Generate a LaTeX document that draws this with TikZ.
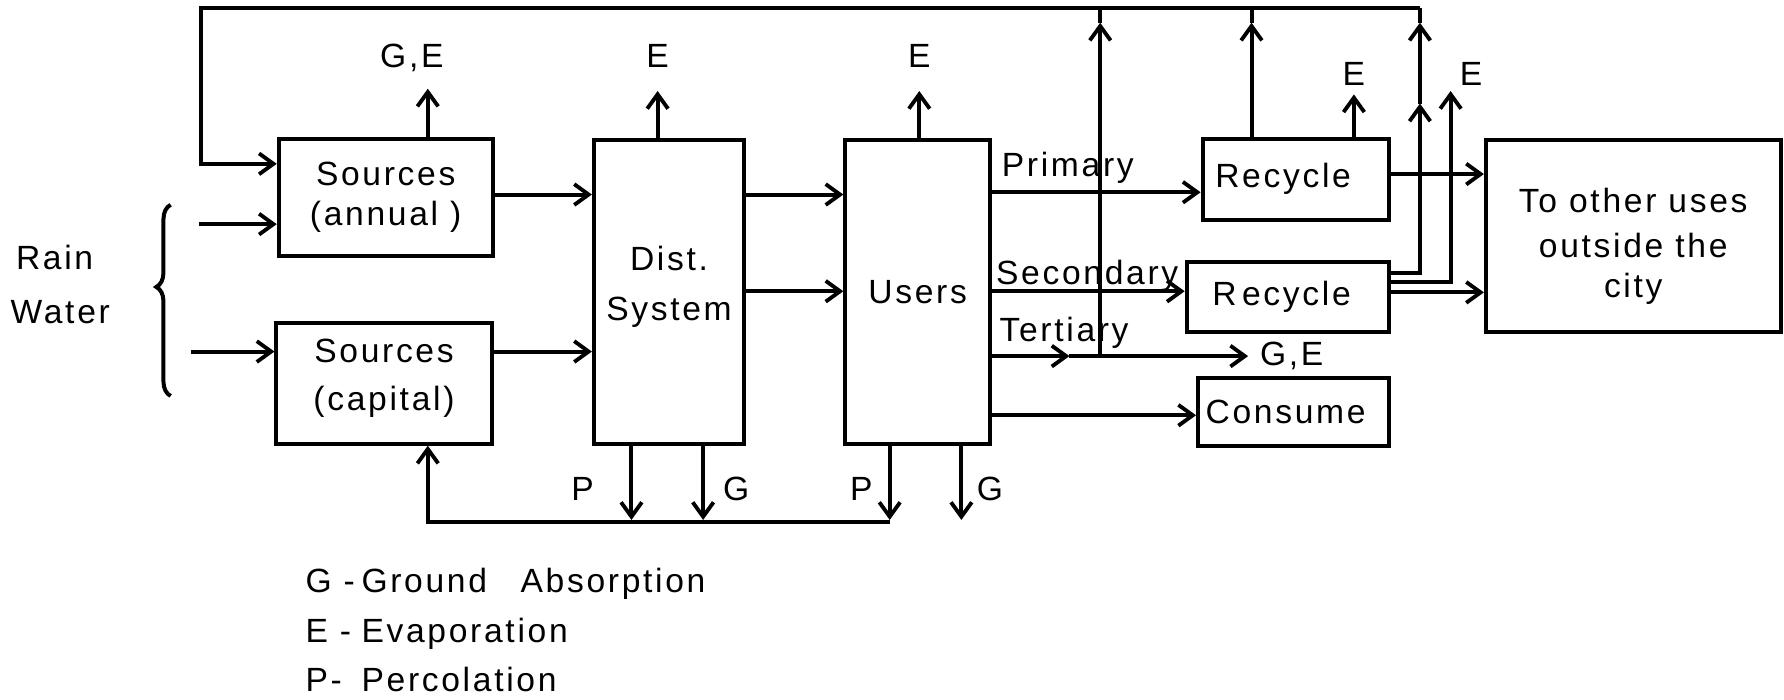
\documentclass[tikz,border=0pt]{standalone}
\usepackage{fontspec}
\setmainfont{Liberation Sans}[LetterSpace=8]
\usetikzlibrary{arrows.meta,decorations.pathreplacing,calc}
\begin{document}
\begin{tikzpicture}[x=0.0125cm,y=-0.0125cm,
  font=\fontsize{10.5}{12.5}\selectfont,
  ln/.style={line width=1.25pt},
  arr/.style={line width=1.25pt,-{Straight Barb[length=4.5pt,width=6.5pt,line width=1.2pt]}},
  box/.style={draw,line width=1.25pt,inner sep=0pt,align=center},
  sz/.style 2 args={minimum width=#1*0.0125cm,minimum height=#2*0.0125cm},
  lbl/.style={inner sep=0pt,anchor=base}]
\useasboundingbox (0,0) rectangle (1568,615);

% boxes
\node[box,sz={188}{103}] (SA) at (339,173.5) {Sources\\(annual )};
\node[box,sz={189}{106}] (SC) at (337.5,337) {\raisebox{-1.3pt}[0pt][0pt]{\begin{tabular}{@{}c@{}}Sources\\[2.5pt](capital)\end{tabular}}};
\node[box,sz={132}{267}] (D) at (588,256.5) {\raisebox{-1.3pt}[0pt][0pt]{\begin{tabular}{@{}c@{}}Dist.\\[3pt]System\end{tabular}}};
\node[box,sz={127}{267}] (U) at (806.5,256.5) {Users};
\node[box,sz={164}{71}] (R1) at (1139,157.5) {Recycle\hspace*{8pt}};
\node[box,sz={178}{62}] (R2) at (1132,261) {R\,ecycle\hspace*{4pt}};
\node[box,sz={168}{60}] (C) at (1137,362) {Consume\hspace*{5pt}};
\node[box,sz={259}{169}] (O) at (1435.5,207.5) {\raisebox{-6.2pt}[0pt][0pt]{\begin{tabular}{@{}c@{}}To other uses\\[1.5pt]outside the\\[0pt]city\end{tabular}}};

% labels
\node[lbl] (lRain) at (48,237) {Rain};
\node[lbl] (lWater) at (53,284) {Water};
\node[lbl] (lGE1) at (362,59) {G,E};
\node[lbl] (lE1) at (578,59) {E};
\node[lbl] (lE2) at (808,59) {E};
\node[lbl] (lE3) at (1190,75) {E};
\node[lbl] (lE4) at (1293,75) {E};
\node[lbl,anchor=base west] (lPri) at (880,155) {Primary};
\node[lbl,anchor=base west] (lSec) at (875,250) {Secondary};
\node[lbl,anchor=base west] (lTer) at (878,300) {Tertiary};
\node[lbl,anchor=base west] (lGE2) at (1107,321) {G,E};
\node[lbl] (lP1) at (512,440) {P};
\node[lbl] (lG1) at (647,440) {G};
\node[lbl] (lP2) at (757,440) {P};
\node[lbl] (lG2) at (870,440) {G};
\node[lbl,anchor=base west] (lg1) at (268,521) {\makebox[17.5pt][l]{G -}Ground\quad Absorption};
\node[lbl,anchor=base west] (lg2) at (268,565) {\makebox[17.5pt][l]{E -}Evaporation};
\node[lbl,anchor=base west] (lg3) at (268,608) {\makebox[17.5pt][l]{P-}Percolation};

% coordinates
\coordinate (tL) at (177,7);
\coordinate (tR) at (1248,7);
\coordinate (fb) at (177,144);
\coordinate (rn1) at (175,197);
\coordinate (rn2) at (168,309);
\coordinate (y171) at (0,171);
\coordinate (y309) at (0,309);
\coordinate (y256) at (0,256);
\coordinate (yP) at (0,169);
\coordinate (yC) at (0,365);
\coordinate (y153) at (0,153);
\coordinate (k3) at (0,257);
\coordinate (eSA) at (376,78);
\coordinate (eD) at (578,80);
\coordinate (eU) at (808,80);
\coordinate (eR1) at (1190,83);
\coordinate (pD) at (555,457);
\coordinate (gD) at (618,457);
\coordinate (pU) at (782,457);
\coordinate (gU) at (845,457);
\coordinate (bL) at (376,459);
\coordinate (bR) at (782,459);
\coordinate (v1b) at (967,313);
\coordinate (v1a) at (967,20);
\coordinate (v2a) at (1100,20);
\coordinate (tm) at (940,313);
\coordinate (tt) at (1097,313);
\coordinate (k1) at (1248,240);
\coordinate (k1m) at (1248,91);
\coordinate (k1t) at (1248,20);
\coordinate (k2) at (1275,248);
\coordinate (k2t) at (1275,80);

% brace
\draw[ln,decorate,decoration={brace,amplitude=4.5pt,aspect=0.43,mirror}] (150,180) -- (150,348);

% feedback loop
\draw[arr] (tR) -- (tL) -- (fb) -- (SA.west |- fb);
% rain
\draw[arr] (rn1) -- (SA.west |- rn1);
\draw[arr] (rn2) -- (SC.west |- rn2);
% sources to dist
\draw[arr] (SA.east |- y171) -- (D.west |- y171);
\draw[arr] (SC.east |- y309) -- (D.west |- y309);
% dist to users
\draw[arr] (D.east |- y171) -- (U.west |- y171);
\draw[arr] (D.east |- y256) -- (U.west |- y256);
% users outputs
\draw[arr] (U.east |- yP) -- (R1.west |- yP);
\draw[arr] (U.east |- y256) -- (R2.west |- y256);
\draw[arr] (U.east |- tt) -- (tm);
\draw[arr] (tm) -- (tt);
\draw[arr] (U.east |- yC) -- (C.west |- yC);
% evaporation arrows
\draw[arr] (SA.north -| eSA) -- (eSA);
\draw[arr] (D.north -| eD) -- (eD);
\draw[arr] (U.north -| eU) -- (eU);
\draw[arr] (R1.north -| eR1) -- (eR1);
% bottom
\draw[arr] (D.south -| pD) -- (pD);
\draw[arr] (D.south -| gD) -- (gD);
\draw[arr] (U.south -| pU) -- (pU);
\draw[arr] (U.south -| gU) -- (gU);
\draw[arr] (bR) -- (bL) -- (SC.south -| bL);
% verticals to top
\draw[arr] (v1b) -- (v1a);
\draw[ln] (v1a) -- (v1a |- tL);
\draw[arr] (R1.north -| v2a) -- (v2a);
\draw[ln] (v2a) -- (v2a |- tL);
\draw[arr] (R2.east |- k1) -- (k1) -- (k1m);
\draw[arr] (k1m) -- (k1t);
\draw[ln] (k1t) -- (tR);
\draw[arr] (R2.east |- k2) -- (k2) -- (k2t);
% to other uses
\draw[arr] (R2.east |- k3) -- (O.west |- k3);
\draw[arr] (R1.east |- y153) -- (O.west |- y153);
\end{tikzpicture}
\end{document}
